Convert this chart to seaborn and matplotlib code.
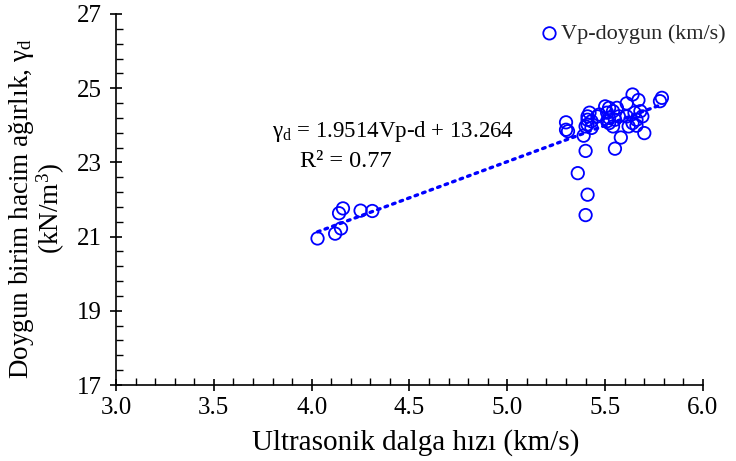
import numpy as np
import pandas as pd
import matplotlib
matplotlib.use("Agg")
import matplotlib.pyplot as plt
import seaborn as sns

# ---- data ----
vp = [4.03, 4.12, 4.15, 4.14, 4.16, 4.25, 4.31,
      5.30, 5.30, 5.31, 5.39, 5.40, 5.36, 5.41, 5.40,
      5.55, 5.58, 5.70, 5.64, 5.67, 5.61, 5.79, 5.78,
      5.42, 5.41, 5.41, 5.43, 5.41, 5.43, 5.46, 5.47, 5.40,
      5.50, 5.52, 5.56, 5.54, 5.51, 5.52, 5.55, 5.57, 5.52, 5.54, 5.51,
      5.61, 5.62, 5.65, 5.66, 5.68, 5.69, 5.64, 5.66]
gamma_d = [20.95, 21.08, 21.22, 21.63, 21.76, 21.70, 21.69,
           24.08, 23.88, 23.84, 23.72, 23.31, 22.71, 22.13, 21.58,
           23.37, 23.67, 23.79, 24.83, 24.68, 24.59, 24.74, 24.65,
           24.34, 24.24, 24.15, 24.11, 24.02, 23.93, 24.24, 24.29, 23.97,
           24.51, 24.47, 24.47, 24.38, 24.34, 24.20, 24.15, 24.24, 24.06, 23.97, 24.11,
           24.24, 23.97, 24.34, 24.15, 24.38, 24.24, 24.06, 23.99]
series_label = "Vp-doygun (km/s)"
fit_slope = 1.9514
fit_intercept = 13.264
r_squared = 0.77
x_ticks = [3.0, 3.5, 4.0, 4.5, 5.0, 5.5, 6.0]
y_ticks = [17, 19, 21, 23, 25, 27]

df = pd.DataFrame({"vp": vp, "gamma": gamma_d})

sns.set_theme(style="ticks")
plt.rcParams["font.family"] = ["Liberation Serif", "DejaVu Serif"]
plt.rcParams["mathtext.fontset"] = "custom"
plt.rcParams["mathtext.rm"] = "Liberation Serif"
plt.rcParams["mathtext.it"] = "Liberation Serif:italic"

fig = plt.figure(figsize=(7.36, 4.61), dpi=100)
ax = fig.add_axes([116 / 736, 76 / 461, (703 - 116) / 736, (385 - 14) / 461])

blue = "#0000FF"
sns.scatterplot(data=df, x="vp", y="gamma", ax=ax, marker="o", s=80,
                facecolors="none", edgecolor=blue, linewidth=1.3,
                label=series_label, zorder=3)

xf = np.array([min(vp), max(vp)])
ax.plot(xf, fit_slope * xf + fit_intercept, color=blue, lw=2.4,
        linestyle=(0, (0.8, 1.6)), dash_capstyle="round", zorder=2)

ax.set_xlim(3.0, 6.0)
ax.set_ylim(17, 27)
ax.set_xticks(x_ticks)
ax.set_xticklabels([f"{t:.1f}" for t in x_ticks])
ax.set_yticks(y_ticks)
ax.set_yticklabels([str(t) for t in y_ticks])
ax.set_xticks(np.arange(3.0, 6.001, 0.1), minor=True)
ax.set_yticks(np.arange(17, 27.001, 0.4), minor=True)
ax.tick_params(which="major", direction="inout", length=9, width=1.2,
               colors="black", labelsize=18)
ax.tick_params(axis="x", which="major", pad=4)
ax.tick_params(axis="y", which="major", pad=6)
ax.tick_params(which="minor", direction="in", length=5, width=1.0, colors="black")

for s in ["top", "right"]:
    ax.spines[s].set_visible(False)
for s in ["left", "bottom"]:
    ax.spines[s].set_color("black")
    ax.spines[s].set_linewidth(1.2)

ax.set_xlabel("Ultrasonik dalga hızı (km/s)", fontsize=21, color="black")
ax.xaxis.set_label_coords(0.51, -0.118)
ax.set_ylabel("Doygun birim hacim ağırlık, γ$_\\mathrm{d}$\n(kN/m$^3$)",
              fontsize=19.5, color="black", linespacing=0.95)
ax.yaxis.set_label_coords(-0.084, 0.475)

ax.text(4.415, 23.82, "γ$_\\mathrm{d}$ = 1.9514Vp-d + 13.264",
        fontsize=16.5, ha="center", va="center", color="black")
ax.text(4.175, 23.03, f"R² = {r_squared:.2f}",
        fontsize=17.5, ha="center", va="center", color="black")

leg = ax.legend(loc="upper right", bbox_to_anchor=(1.053, 0.998), frameon=False,
                fontsize=16, handlelength=1.0, handletextpad=0.0, borderaxespad=0.0)

fig.savefig("out.png", dpi=100)
